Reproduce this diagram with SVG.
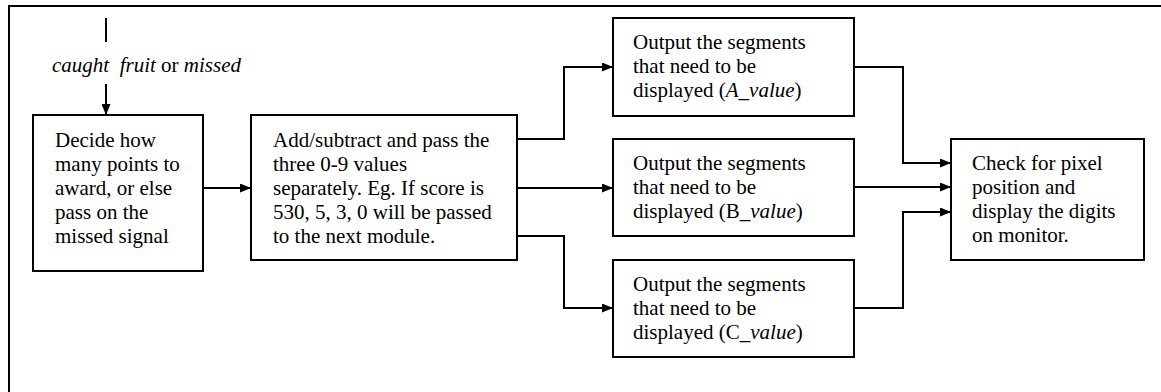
<svg xmlns="http://www.w3.org/2000/svg" width="1161" height="392" viewBox="0 0 1161 392">
<style>
.box{fill:#fff;stroke:#000;stroke-width:2}
.ln{fill:none;stroke:#000;stroke-width:2}
text{font-family:"Liberation Serif","Times New Roman",serif;font-size:21px;fill:#000}
.i{font-style:italic}
</style>
<defs>
<marker id="ah" markerWidth="11" markerHeight="9" refX="11" refY="4.5" orient="auto" markerUnits="userSpaceOnUse">
<path d="M0,0 L11,4.5 L0,9 Z" fill="#000"/>
</marker>
</defs>
<rect x="0" y="0" width="1161" height="392" fill="#fff"/>
<path class="ln" d="M9,400 V6 H1170"/>
<g id="input">
<text x="52" y="72" xml:space="preserve"><tspan class="i">caught  fruit</tspan> or <tspan class="i">missed</tspan></text>
</g>
<g id="connectors">
<line class="ln" x1="106" y1="18" x2="106" y2="42"/>
<line class="ln" x1="106" y1="84" x2="106" y2="115" marker-end="url(#ah)"/>
<line class="ln" x1="203" y1="188" x2="251" y2="188" marker-end="url(#ah)"/>
<polyline class="ln" points="517,139 564,139 564,67 613,67" marker-end="url(#ah)"/>
<line class="ln" x1="517" y1="188" x2="613" y2="188" marker-end="url(#ah)"/>
<polyline class="ln" points="517,236 564,236 564,308 613,308" marker-end="url(#ah)"/>
<polyline class="ln" points="854,67 903,67 903,163 951,163" marker-end="url(#ah)"/>
<line class="ln" x1="854" y1="187" x2="951" y2="187" marker-end="url(#ah)"/>
<polyline class="ln" points="854,308 903,308 903,212 951,212" marker-end="url(#ah)"/>
</g>
<g id="decide">
<rect class="box" x="33" y="115" width="170" height="156"/>
<text x="55" y="147">Decide how</text>
<text x="55" y="171">many points to</text>
<text x="55" y="195">award, or else</text>
<text x="55" y="219">pass on the</text>
<text x="55" y="243">missed signal</text>
</g>
<g id="addsub">
<rect class="box" x="251" y="115" width="266" height="145"/>
<text x="273" y="147">Add/subtract and pass the</text>
<text x="273" y="171">three 0-9 values</text>
<text x="273" y="195">separately. Eg. If score is</text>
<text x="273" y="219">530, 5, 3, 0 will be passed</text>
<text x="273" y="243">to the next module.</text>
</g>
<g id="segA">
<rect class="box" x="613" y="18" width="241" height="98"/>
<text x="633" y="49">Output the segments</text>
<text x="633" y="73">that need to be</text>
<text x="633" y="97">displayed (<tspan class="i">A_value</tspan>)</text>
</g>
<g id="segB">
<rect class="box" x="613" y="139" width="241" height="97"/>
<text x="633" y="170">Output the segments</text>
<text x="633" y="194">that need to be</text>
<text x="633" y="218">displayed (B_<tspan class="i">value</tspan>)</text>
</g>
<g id="segC">
<rect class="box" x="613" y="260" width="241" height="97"/>
<text x="633" y="291">Output the segments</text>
<text x="633" y="315">that need to be</text>
<text x="633" y="339">displayed (C_<tspan class="i">value</tspan>)</text>
</g>
<g id="display">
<rect class="box" x="951" y="139" width="193" height="121"/>
<text x="972" y="170">Check for pixel</text>
<text x="972" y="194">position and</text>
<text x="972" y="218">display the digits</text>
<text x="972" y="242">on monitor.</text>
</g>
</svg>
